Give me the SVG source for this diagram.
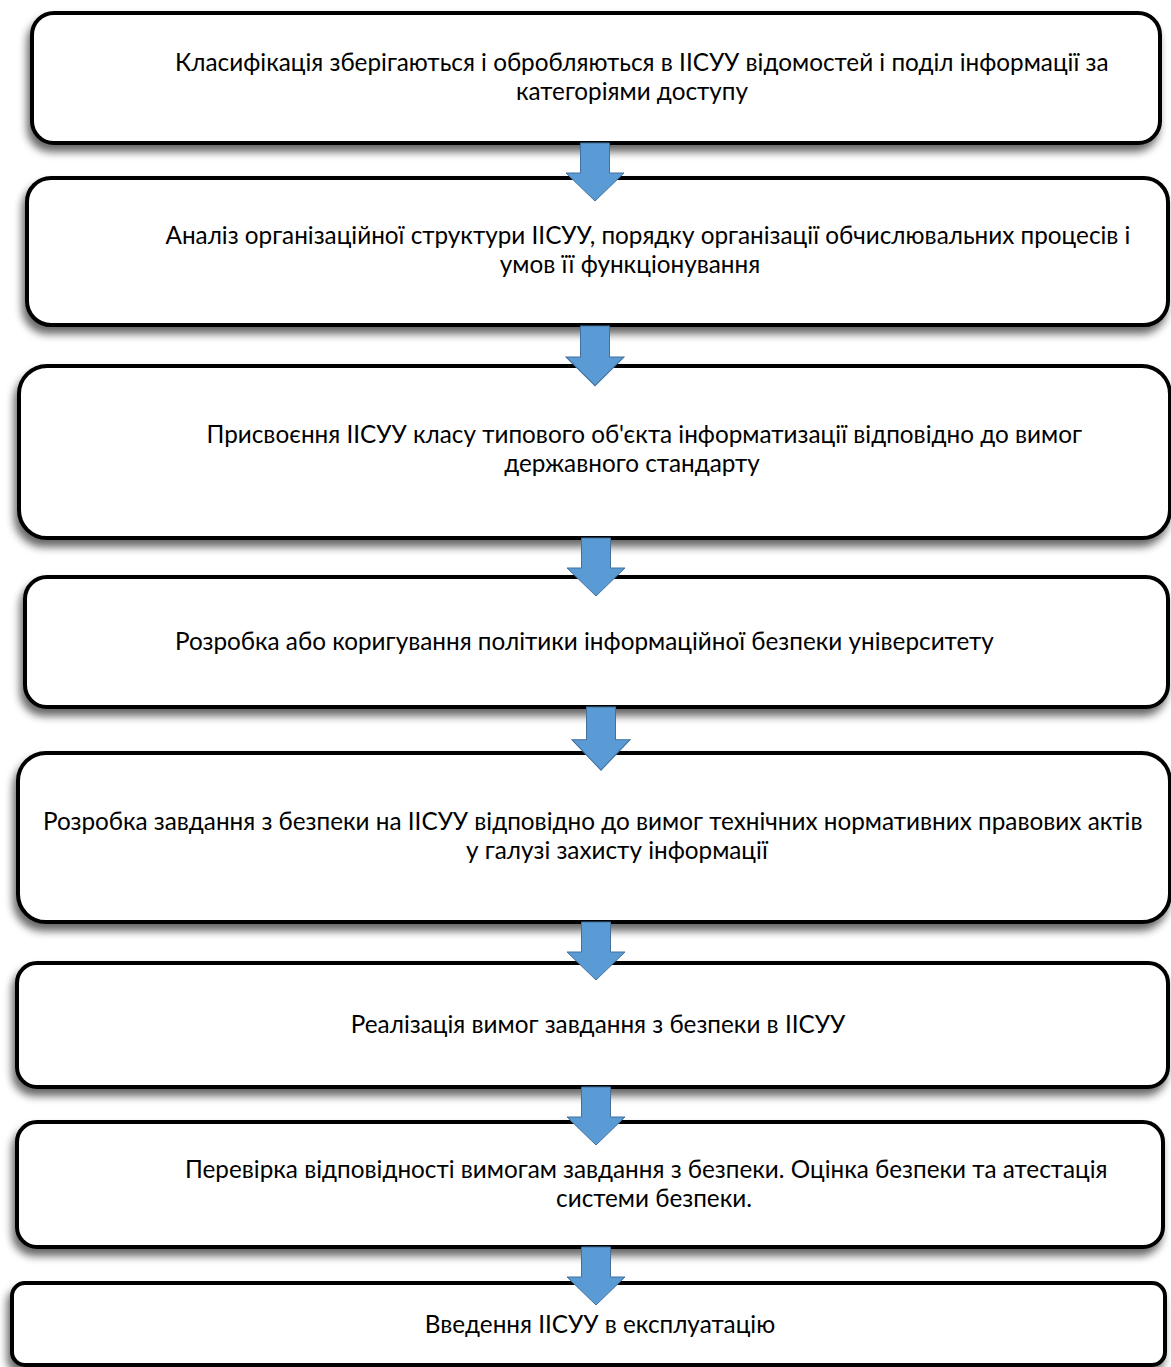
<svg xmlns="http://www.w3.org/2000/svg" width="1171" height="1367" viewBox="0 0 1171 1367">
  <defs>
    <filter id="shadow" x="-5%" y="-10%" width="110%" height="130%">
      <feGaussianBlur in="SourceAlpha" stdDeviation="4"/>
      <feOffset dx="-3" dy="7" result="blur"/>
      <feComponentTransfer><feFuncA type="linear" slope="0.6"/></feComponentTransfer>
      <feMerge><feMergeNode/><feMergeNode in="SourceGraphic"/></feMerge>
    </filter>
    <!-- block arrow pointing down, origin at shaft top centre -->
    <polygon id="down" points="-14.5,0 14.5,0 14.5,30 29,30 0,58 -29,30 -14.5,30"/>
  </defs>
  <style>
    .box { fill: #ffffff; stroke: #000000; stroke-width: 4; filter: url(#shadow); }
    .lbl { font-family: Lato, "Open Sans", "Noto Sans", sans-serif; font-size: 24.3px; fill: #000000; }
    .mid { text-anchor: middle; }
    .end { text-anchor: end; }
    .arrow { fill: #5B9BD5; stroke: #41719C; stroke-width: 1; }
  </style>
  <rect width="1171" height="1367" fill="#ffffff"/>

  <g id="step1">
    <rect class="box" x="32" y="13" width="1128" height="130" rx="22"/>
    <text class="lbl" x="175" y="71">Класифікація зберігаються і обробляються в ІІСУУ відомостей і поділ інформації за</text>
    <text class="lbl mid" x="632" y="100">категоріями доступу</text>
  </g>
  <g id="step2">
    <rect class="box" x="27" y="178" width="1141" height="147" rx="24"/>
    <text class="lbl mid" x="648" y="244">Аналіз організаційної структури ІІСУУ, порядку організації обчислювальних процесів і</text>
    <text class="lbl mid" x="630" y="273">умов її функціонування</text>
  </g>
  <g id="step3">
    <rect class="box" x="19" y="366" width="1151" height="172" rx="28"/>
    <text class="lbl end" x="1082" y="443">Присвоєння ІІСУУ класу типового об'єкта інформатизації відповідно до вимог</text>
    <text class="lbl mid" x="632" y="472">державного стандарту</text>
  </g>
  <g id="step4">
    <rect class="box" x="25" y="577" width="1143" height="130" rx="22"/>
    <text class="lbl" x="175" y="650">Розробка або коригування політики інформаційної безпеки університету</text>
  </g>
  <g id="step5">
    <rect class="box" x="18" y="753" width="1152" height="169" rx="28"/>
    <text class="lbl" x="43" y="830">Розробка завдання з безпеки на ІІСУУ відповідно до вимог технічних нормативних правових актів</text>
    <text class="lbl mid" x="617" y="859">у галузі захисту інформації</text>
  </g>
  <g id="step6">
    <rect class="box" x="17" y="963" width="1151" height="124" rx="20"/>
    <text class="lbl mid" x="598" y="1033">Реалізація вимог завдання з безпеки в ІІСУУ</text>
  </g>
  <g id="step7">
    <rect class="box" x="17" y="1122" width="1146" height="125" rx="20"/>
    <text class="lbl" x="185" y="1178">Перевірка відповідності вимогам завдання з безпеки. Оцінка безпеки та атестація</text>
    <text class="lbl mid" x="654" y="1207">системи безпеки.</text>
  </g>
  <g id="step8">
    <rect class="box" x="12" y="1283" width="1153" height="82" rx="13"/>
    <text class="lbl mid" x="600" y="1333">Введення ІІСУУ в експлуатацію</text>
  </g>

  <g id="connectors">
    <use href="#down" class="arrow" x="595" y="143"/>
    <use href="#down" class="arrow" transform="translate(595 326) scale(1 1.03)"/>
    <use href="#down" class="arrow" x="596" y="538"/>
    <use href="#down" class="arrow" transform="translate(601 707) scale(1 1.09)"/>
    <use href="#down" class="arrow" x="596" y="922"/>
    <use href="#down" class="arrow" x="596" y="1087"/>
    <use href="#down" class="arrow" x="596" y="1247"/>
  </g>
</svg>
